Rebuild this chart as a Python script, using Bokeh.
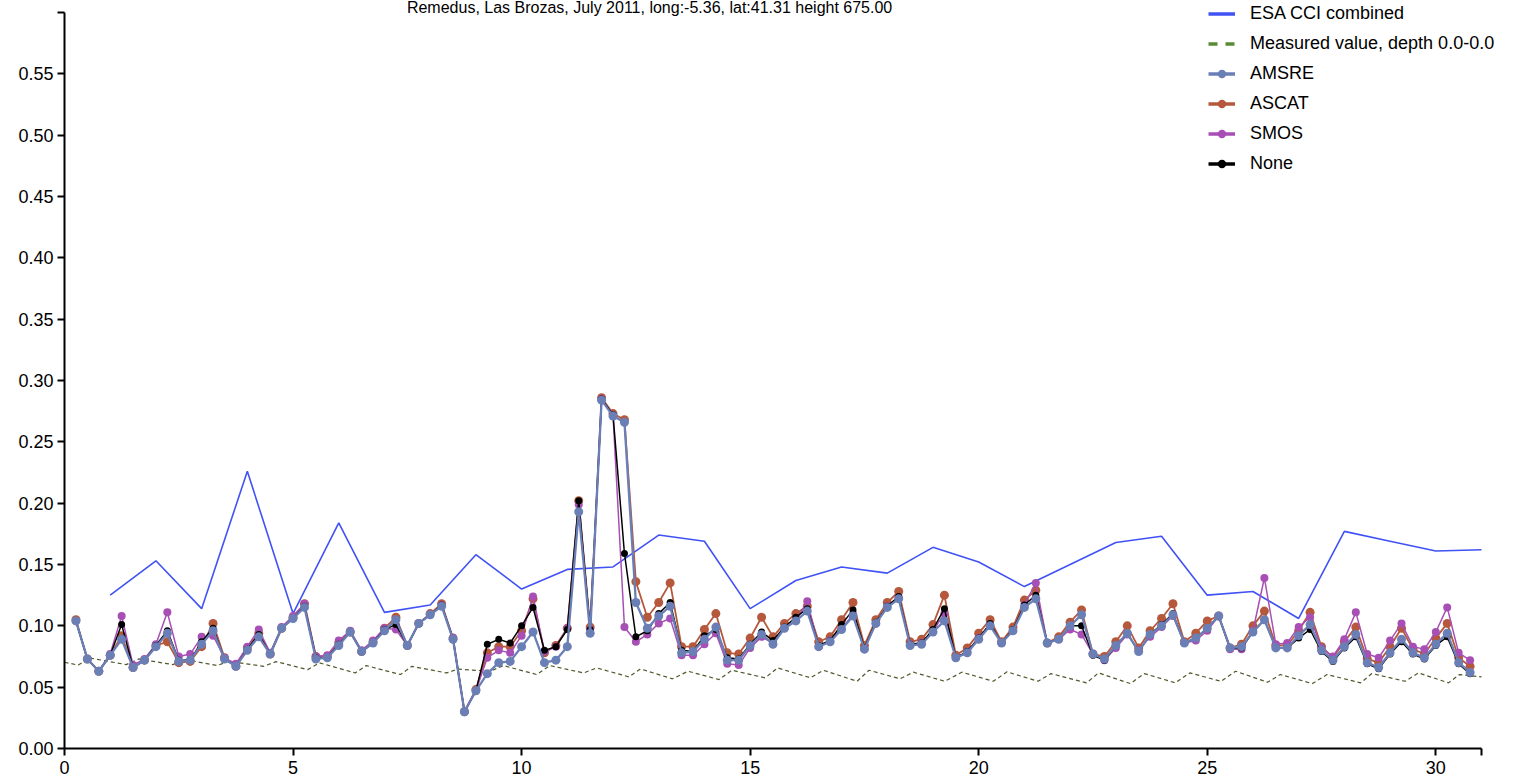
from bokeh.plotting import figure
from bokeh.models import (Range1d, FixedTicker, PrintfTickFormatter, Legend,
                          LegendItem, Label, ColumnDataSource)
from bokeh.embed import file_html
from bokeh.resources import INLINE

TITLE = "Remedus, Las Brozas, July 2011, long:-5.36, lat:41.31 height 675.00"

X_TICKS = [0, 5, 10, 15, 20, 25, 30, 31]
Y_TICKS = [0.0, 0.05, 0.1, 0.15, 0.2, 0.25, 0.3, 0.35, 0.4, 0.45, 0.5, 0.55, 0.6]
X_AXIS_END = 31
Y_AXIS_END = 0.6

LEGEND_LABELS = ["ESA CCI combined", "Measured value, depth 0.0-0.0", "AMSRE",
                 "ASCAT", "SMOS", "None"]

# ESA CCI combined (daily)
esa_day = [1, 2, 3, 4, 5, 6, 7, 8, 9, 10, 11, 12, 13, 14, 15, 16, 17, 18, 19, 20,
           21, 22, 23, 24, 25, 26, 27, 28, 29, 30, 31]
esa_val = [0.125, 0.153, 0.114, 0.226, 0.110, 0.184, 0.111, 0.117, 0.158, 0.130,
           0.146, 0.148, 0.174, 0.169, 0.114, 0.137, 0.148, 0.143, 0.164, 0.152,
           0.132, 0.150, 0.168, 0.173, 0.125, 0.128, 0.106, 0.177, 0.169, 0.161, 0.162]

# Measured value (in situ), troughs and peaks of the daily cycle
meas_day = [0.0, 0.3, 0.55, 1.35, 1.62, 2.37, 2.65, 3.34, 3.58, 4.35, 4.63, 5.32, 5.58,
            6.36, 6.6, 7.35, 7.6, 8.36, 8.6, 9.32, 9.6, 10.33, 10.62, 11.36, 11.64,
            12.35, 12.6, 13.3, 13.64, 14.32, 14.6, 15.33, 15.6, 16.32, 16.6, 17.34,
            17.6, 18.28, 18.57, 19.26, 19.63, 20.32, 20.62, 21.3, 21.58, 22.36, 22.62,
            23.32, 23.62, 24.3, 24.62, 25.3, 25.62, 26.32, 26.6, 27.3, 27.62, 28.36,
            28.6, 29.33, 29.62, 30.28, 30.52, 31.0]
meas_val = [0.0703, 0.0680, 0.0738, 0.0684, 0.0730, 0.0684, 0.0725, 0.0676, 0.0711,
            0.0670, 0.0708, 0.0643, 0.0698, 0.0616, 0.0676, 0.0603, 0.0670, 0.0616,
            0.0647, 0.0630, 0.0676, 0.0603, 0.0676, 0.0616, 0.0657, 0.0584, 0.0649,
            0.0568, 0.0630, 0.0562, 0.0638, 0.0576, 0.0657, 0.0576, 0.0638, 0.0548,
            0.0638, 0.0568, 0.0622, 0.0548, 0.0622, 0.0548, 0.0625, 0.0548, 0.0611,
            0.0535, 0.0616, 0.0529, 0.0611, 0.0535, 0.0616, 0.0548, 0.0630, 0.0540,
            0.0603, 0.0529, 0.0603, 0.0535, 0.0611, 0.0548, 0.0616, 0.0535, 0.0603,
            0.0584]

# 6-hourly satellite sample times (days)
sat_day = [0.25, 0.5, 0.75, 1.0, 1.25, 1.5, 1.75, 2.0, 2.25, 2.5, 2.75, 3.0, 3.25, 3.5,
           3.75, 4.0, 4.25, 4.5, 4.75, 5.0, 5.25, 5.5, 5.75, 6.0, 6.25, 6.5, 6.75, 7.0,
           7.25, 7.5, 7.75, 8.0, 8.25, 8.5, 8.75, 9.0, 9.25, 9.5, 9.75, 10.0, 10.25,
           10.5, 10.75, 11.0, 11.25, 11.5, 11.75, 12.0, 12.25, 12.5, 12.75, 13.0, 13.25,
           13.5, 13.75, 14.0, 14.25, 14.5, 14.75, 15.0, 15.25, 15.5, 15.75, 16.0, 16.25,
           16.5, 16.75, 17.0, 17.25, 17.5, 17.75, 18.0, 18.25, 18.5, 18.75, 19.0, 19.25,
           19.5, 19.75, 20.0, 20.25, 20.5, 20.75, 21.0, 21.25, 21.5, 21.75, 22.0, 22.25,
           22.5, 22.75, 23.0, 23.25, 23.5, 23.75, 24.0, 24.25, 24.5, 24.75, 25.0, 25.25,
           25.5, 25.75, 26.0, 26.25, 26.5, 26.75, 27.0, 27.25, 27.5, 27.75, 28.0, 28.25,
           28.5, 28.75, 29.0, 29.25, 29.5, 29.75, 30.0, 30.25, 30.5, 30.75]

amsre = [0.104, 0.073, 0.063, 0.076, 0.089, 0.066, 0.072, 0.083, 0.094, 0.071, 0.072,
         0.085, 0.096, 0.073, 0.067, 0.080, 0.091, 0.077, 0.098, 0.106, 0.115, 0.073,
         0.074, 0.084, 0.095, 0.079, 0.086, 0.096, 0.105, 0.084, 0.102, 0.109, 0.116,
         0.089, 0.030, 0.047, 0.061, 0.070, 0.071, 0.083, 0.095, 0.070, 0.072, 0.083,
         0.193, 0.094, 0.284, 0.271, 0.266, 0.119, 0.098, 0.108, 0.116, 0.078, 0.079,
         0.089, 0.099, 0.072, 0.072, 0.084, 0.093, 0.085, 0.098, 0.104, 0.112, 0.083,
         0.087, 0.097, 0.108, 0.081, 0.102, 0.115, 0.122, 0.084, 0.085, 0.095, 0.104,
         0.074, 0.078, 0.089, 0.100, 0.086, 0.096, 0.115, 0.122, 0.086, 0.089, 0.100,
         0.109, 0.077, 0.073, 0.084, 0.094, 0.079, 0.093, 0.100, 0.109, 0.086, 0.090,
         0.098, 0.108, 0.082, 0.083, 0.095, 0.105, 0.082, 0.082, 0.092, 0.101, 0.080,
         0.072, 0.083, 0.093, 0.070, 0.066, 0.078, 0.089, 0.078, 0.074, 0.085, 0.094,
         0.070, 0.062]

ascat = [0.105, 0.073, 0.063, 0.076, 0.092, 0.066, 0.072, 0.084, 0.087, 0.070, 0.071,
         0.083, 0.102, 0.074, 0.067, 0.082, 0.094, 0.077, 0.098, 0.107, 0.118, 0.075,
         0.075, 0.086, 0.095, 0.079, 0.087, 0.098, 0.107, 0.084, 0.102, 0.110, 0.118,
         0.090, 0.030, 0.048, 0.078, 0.083, 0.083, 0.096, 0.122, 0.078, 0.084, 0.098,
         0.202, 0.099, 0.286, 0.273, 0.268, 0.136, 0.107, 0.119, 0.135, 0.083, 0.083,
         0.097, 0.110, 0.078, 0.077, 0.090, 0.107, 0.091, 0.102, 0.110, 0.116, 0.087,
         0.091, 0.105, 0.119, 0.084, 0.105, 0.119, 0.128, 0.087, 0.089, 0.101, 0.125,
         0.076, 0.082, 0.094, 0.105, 0.087, 0.099, 0.121, 0.129, 0.086, 0.091, 0.103,
         0.113, 0.077, 0.075, 0.087, 0.100, 0.082, 0.096, 0.106, 0.118, 0.087, 0.094,
         0.104, 0.108, 0.082, 0.085, 0.100, 0.112, 0.084, 0.084, 0.096, 0.111, 0.083,
         0.074, 0.087, 0.099, 0.073, 0.070, 0.083, 0.098, 0.081, 0.077, 0.090, 0.102,
         0.074, 0.067]

smos = [0.104, 0.073, 0.063, 0.077, 0.108, 0.068, 0.073, 0.085, 0.111, 0.075, 0.077,
        0.091, 0.092, 0.074, 0.069, 0.083, 0.097, 0.078, 0.099, 0.108, 0.118, 0.075,
        0.076, 0.088, 0.096, 0.080, 0.088, 0.098, 0.097, 0.084, 0.102, 0.109, 0.117,
        0.090, 0.030, 0.047, 0.074, 0.080, 0.078, 0.092, 0.124, 0.079, 0.083, 0.098,
        0.199, 0.097, 0.285, 0.272, 0.099, 0.087, 0.093, 0.102, 0.106, 0.076, 0.076,
        0.085, 0.094, 0.069, 0.068, 0.082, 0.091, 0.086, 0.098, 0.104, 0.120, 0.083,
        0.088, 0.098, 0.109, 0.081, 0.102, 0.116, 0.123, 0.085, 0.086, 0.096, 0.110,
        0.074, 0.079, 0.090, 0.101, 0.086, 0.096, 0.117, 0.135, 0.086, 0.089, 0.097,
        0.093, 0.077, 0.072, 0.082, 0.093, 0.080, 0.091, 0.099, 0.108, 0.086, 0.088,
        0.096, 0.108, 0.081, 0.081, 0.096, 0.139, 0.085, 0.086, 0.099, 0.107, 0.082,
        0.075, 0.089, 0.111, 0.077, 0.074, 0.088, 0.102, 0.083, 0.081, 0.095, 0.115,
        0.078, 0.072]

none_ = [0.104, 0.073, 0.063, 0.076, 0.101, 0.066, 0.072, 0.084, 0.096, 0.072, 0.072,
         0.087, 0.098, 0.073, 0.067, 0.081, 0.093, 0.077, 0.098, 0.106, 0.116, 0.074,
         0.074, 0.085, 0.095, 0.079, 0.086, 0.097, 0.101, 0.084, 0.102, 0.109, 0.117,
         0.089, 0.030, 0.047, 0.085, 0.089, 0.086, 0.100, 0.115, 0.080, 0.083, 0.097,
         0.202, 0.097, 0.285, 0.272, 0.159, 0.091, 0.096, 0.110, 0.119, 0.080, 0.079,
         0.092, 0.097, 0.074, 0.073, 0.085, 0.095, 0.088, 0.099, 0.107, 0.114, 0.084,
         0.088, 0.101, 0.113, 0.082, 0.103, 0.116, 0.124, 0.085, 0.086, 0.097, 0.114,
         0.074, 0.079, 0.090, 0.102, 0.086, 0.097, 0.117, 0.125, 0.086, 0.089, 0.100,
         0.100, 0.076, 0.072, 0.084, 0.094, 0.079, 0.093, 0.101, 0.110, 0.086, 0.090,
         0.098, 0.108, 0.082, 0.082, 0.095, 0.105, 0.082, 0.082, 0.090, 0.097, 0.079,
         0.071, 0.082, 0.091, 0.069, 0.065, 0.077, 0.087, 0.077, 0.073, 0.084, 0.091,
         0.069, 0.061]

FONT = "Liberation Sans"
C_ESA = "#4052f5"
C_MEAS_LEG = "#5b8a35"
C_MEAS = "#4f5a2c"
C_AMSRE = "#6a7fb6"
C_ASCAT = "#b5583b"
C_SMOS = "#a74fb4"
C_NONE = "#000000"

# Frame spans to the top and right edges of the canvas (so the legend and the
# title, which sit outside the axes, are not clipped); the axes are bounded.
W, H = 1520, 779
LEFT, BOTTOM = 64, 31
PX_PER_DAY = (1481 - 64) / X_AXIS_END
PX_PER_UNIT = (748 - 12) / Y_AXIS_END
x_end = (W - LEFT) / PX_PER_DAY
y_end = (H - BOTTOM) / PX_PER_UNIT

p = figure(width=W, height=H, output_backend="svg", toolbar_location=None,
           x_range=Range1d(0, x_end), y_range=Range1d(0, y_end),
           min_border_left=LEFT, min_border_right=0, min_border_top=0,
           min_border_bottom=BOTTOM)
p.outline_line_color = None
p.xgrid.visible = False
p.ygrid.visible = False
p.background_fill_color = "white"

for ax in (p.xaxis[0], p.yaxis[0]):
    ax.axis_line_width = 2
    ax.axis_line_color = "black"
    ax.major_tick_line_width = 2
    ax.major_tick_line_color = "black"
    ax.major_tick_out = 7
    ax.major_tick_in = 0
    ax.minor_tick_line_color = None
    ax.major_label_text_font = FONT
    ax.major_label_text_font_size = "18px"
    ax.major_label_text_color = "black"

p.xaxis.bounds = (0, X_AXIS_END)
p.xaxis.ticker = FixedTicker(ticks=X_TICKS)
p.xaxis.formatter = PrintfTickFormatter(format="%d")
p.xaxis.major_label_overrides = {31: ""}
p.xaxis.major_label_standoff = 5
p.yaxis.bounds = (0, Y_AXIS_END)
p.yaxis.ticker = FixedTicker(ticks=Y_TICKS)
p.yaxis.formatter = PrintfTickFormatter(format="%.2f")
p.yaxis.major_label_overrides = {0.6: ""}
p.yaxis.major_label_standoff = 4

# data
src_esa = ColumnDataSource(dict(x=esa_day, y=esa_val))
src_meas = ColumnDataSource(dict(x=meas_day, y=meas_val))
sat = ColumnDataSource(dict(x=sat_day, amsre=amsre, ascat=ascat, smos=smos, none=none_))

p.line("x", "y", source=src_esa, line_color=C_ESA, line_width=1.6)
p.line("x", "y", source=src_meas, line_color=C_MEAS, line_width=1.2, line_dash="4 3")

p.line("x", "ascat", source=sat, line_color=C_ASCAT, line_width=1.8)
p.scatter("x", "ascat", source=sat, size=9, fill_color=C_ASCAT, line_color=None)
p.line("x", "smos", source=sat, line_color=C_SMOS, line_width=1.5)
p.scatter("x", "smos", source=sat, size=8, fill_color=C_SMOS, line_color=None)
p.line("x", "none", source=sat, line_color=C_NONE, line_width=1.5)
p.scatter("x", "none", source=sat, size=7, fill_color=C_NONE, line_color=None)
p.line("x", "amsre", source=sat, line_color=C_AMSRE, line_width=2.3)
p.scatter("x", "amsre", source=sat, size=9, fill_color=C_AMSRE, line_color=None)

# legend swatches: renderers whose single point lies outside the visible ranges
OFF = [-100.0]

def leg_line(color, dash="solid"):
    return p.line(OFF, OFF, line_color=color, line_width=3.5, line_dash=dash)

def leg_dot(color):
    return p.scatter(OFF, OFF, size=9, fill_color=color, line_color=None)

swatches = [
    [leg_line(C_ESA)],
    [leg_line(C_MEAS_LEG, "9 8")],
    [leg_line(C_AMSRE), leg_dot(C_AMSRE)],
    [leg_line(C_ASCAT), leg_dot(C_ASCAT)],
    [leg_line(C_SMOS), leg_dot(C_SMOS)],
    [leg_line(C_NONE), leg_dot(C_NONE)],
]
items = [LegendItem(label=lab, renderers=r) for lab, r in zip(LEGEND_LABELS, swatches)]
legend = Legend(items=items, location=(1144, 574), orientation="vertical",
                glyph_width=27, glyph_height=21, label_height=21, label_standoff=15,
                spacing=9, padding=0, margin=0, border_line_color=None,
                background_fill_alpha=0, label_text_font=FONT,
                label_text_font_size="18px", label_text_color="black")
p.add_layout(legend)

# title: centred over x = 12.8 days, its lower edge just below the top of the y axis
p.add_layout(Label(x=12.8, y=Y_AXIS_END + 5 / PX_PER_UNIT, text=TITLE,
                   text_align="center", text_baseline="alphabetic", text_font=FONT,
                   text_font_size="16px", text_color="black"))

open("out.html", "w").write(file_html(p, INLINE))
